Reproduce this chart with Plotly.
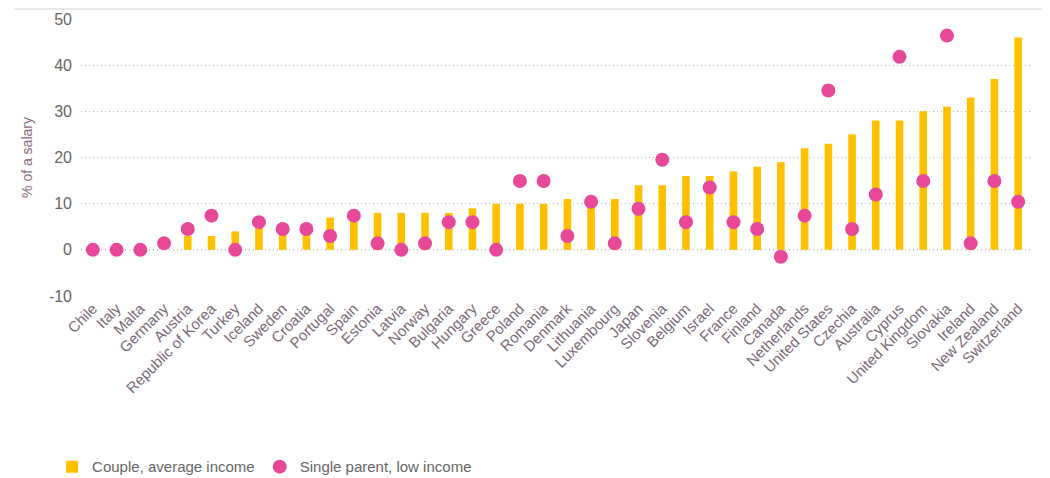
import plotly.graph_objects as go

countries = ["Chile", "Italy", "Malta", "Germany", "Austria", "Republic of Korea", "Turkey",
             "Iceland", "Sweden", "Croatia", "Portugal", "Spain", "Estonia", "Latvia", "Norway",
             "Bulgaria", "Hungary", "Greece", "Poland", "Romania", "Denmark", "Lithuania",
             "Luxembourg", "Japan", "Slovenia", "Belgium", "Israel", "France", "Finland", "Canada",
             "Netherlands", "United States", "Czechia", "Australia", "Cyprus", "United Kingdom",
             "Slovakia", "Ireland", "New Zealand", "Switzerland"]

couple_avg = [0, 0, 0, 0, 3, 3, 4, 5, 4, 4, 7, 7, 8, 8, 8, 8, 9, 10, 10, 10, 11, 11, 11, 14, 14,
              16, 16, 17, 18, 19, 22, 23, 25, 28, 28, 30, 31, 33, 37, 46]

single_low = [0, 0, 0, 1.4, 4.5, 7.4, 0, 6.0, 4.5, 4.5, 3.0, 7.4, 1.4, 0, 1.4, 6.0, 6.0, 0, 14.9,
              14.9, 3.0, 10.4, 1.4, 8.9, 19.5, 6.0, 13.5, 6.0, 4.5, -1.5, 7.4, 34.5, 4.5, 12.0, 41.8,
              14.9, 46.4, 1.4, 14.9, 10.4]

y_ticks = [-10, 0, 10, 20, 30, 40, 50]
y_tick_labels = ["-10", "0", "10", "20", "30", "40", "50"]

FONT = "Arial, Liberation Sans, sans-serif"

fig = go.Figure()
fig.add_trace(go.Bar(
    x=countries, y=couple_avg, name="Couple, average income",
    marker=dict(color="#FFC000", line=dict(width=0)), width=0.32,
))
fig.add_trace(go.Scatter(
    x=countries, y=single_low, name="Single parent, low income", mode="markers",
    marker=dict(color="#E8489A", size=14, line=dict(width=0)),
))

fig.add_shape(type="line", xref="paper", yref="y", x0=0, x1=1, y0=0, y1=0,
              line=dict(color="#C4A070", width=1, dash="1px,3px"), layer="below")
fig.add_shape(type="line", xref="paper", yref="paper", x0=-0.07, x1=1.02, y0=1.036, y1=1.036,
              line=dict(color="#E8E8E8", width=2))

fig.update_layout(
    width=1050, height=478,
    margin=dict(l=73, r=28, t=11, b=190, autoexpand=False),
    paper_bgcolor="white", plot_bgcolor="white",
    font=dict(family=FONT, color="#666666"),
    showlegend=True,
    legend=dict(orientation="h", xref="container", yref="container", x=0.042, y=0.04,
                xanchor="left", yanchor="middle",
                font=dict(size=15, color="#666666"), itemwidth=30, traceorder="normal"),
    bargap=0.6,
)
fig.update_xaxes(
    type="category", tickangle=-45, showgrid=False, showline=False, ticks="",
    tickfont=dict(size=15, color="#7A6A78"), range=[-0.5, 39.5], automargin=False,
)
fig.update_yaxes(
    range=[-10, 50], tickvals=y_ticks, ticktext=y_tick_labels, showgrid=True,
    gridcolor="#BBBBBB", griddash="1px,3px",
    gridwidth=1, zeroline=False, showline=False, ticks="", automargin=False,
    ticklabelstandoff=8,
    tickfont=dict(size=16, color="#666666"),
    title=dict(text="% of a salary", font=dict(size=14, color="#8A6A80"), standoff=12),
)

fig.write_html("out.html")
